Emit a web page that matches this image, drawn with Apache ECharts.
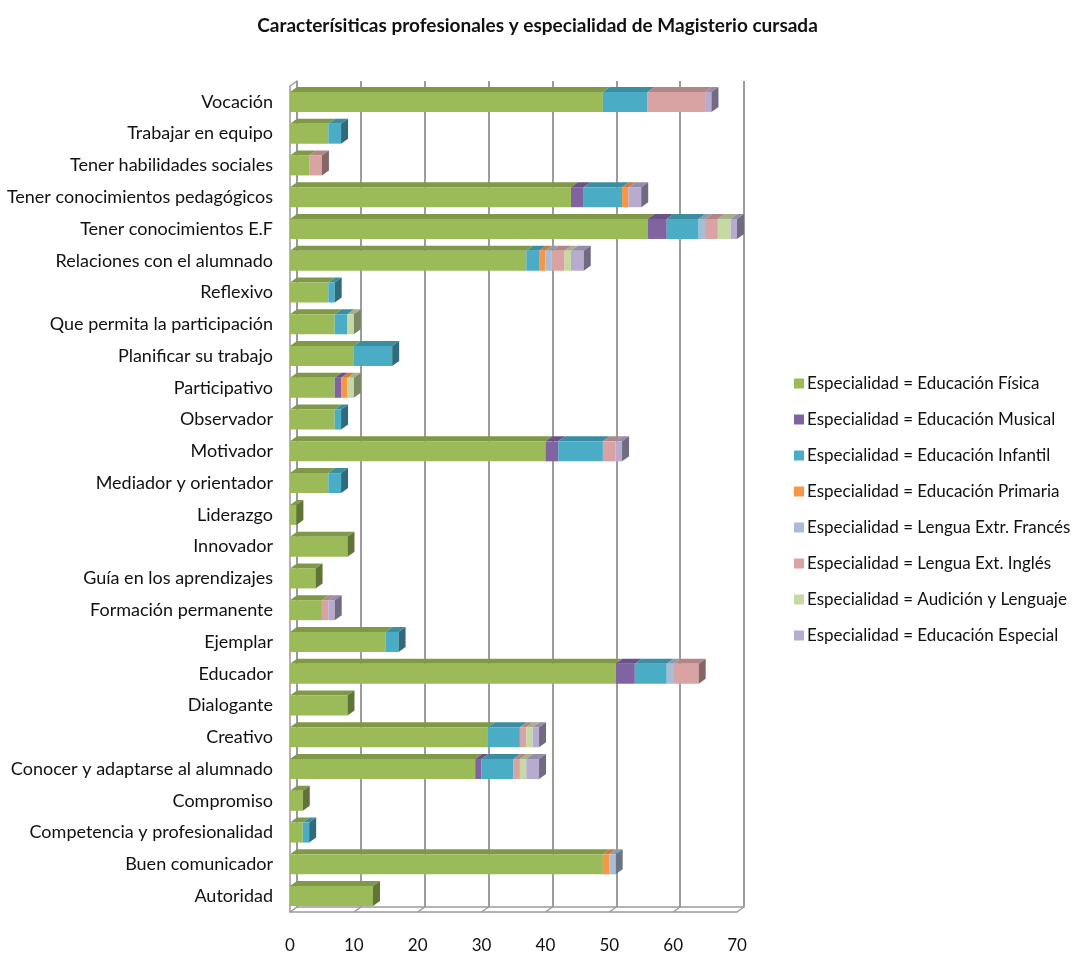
<!DOCTYPE html>
<html>
<head>
<meta charset="utf-8">
<script src="https://cdn.jsdelivr.net/npm/echarts@6/dist/echarts.min.js"></script>
<style>
  html, body { margin: 0; padding: 0; background: #fff; }
  #chart { width: 1075px; height: 956px; }
</style>
</head>
<body>
<div id="chart"></div>
<script>
// Características profesionales, apiladas por especialidad cursada
const categories = [
  'Vocación', 'Trabajar en equipo', 'Tener habilidades sociales',
  'Tener conocimientos pedagógicos', 'Tener conocimientos E.F',
  'Relaciones con el alumnado', 'Reflexivo', 'Que permita la participación',
  'Planificar su trabajo', 'Participativo', 'Observador', 'Motivador',
  'Mediador y orientador', 'Liderazgo', 'Innovador', 'Guía en los aprendizajes',
  'Formación permanente', 'Ejemplar', 'Educador', 'Dialogante', 'Creativo',
  'Conocer y adaptarse al alumnado', 'Compromiso', 'Competencia y profesionalidad',
  'Buen comunicador', 'Autoridad'
];

const educacionFisica    = [49, 6, 3, 44, 56, 37, 6, 7, 10, 7, 7, 40, 6, 1, 9, 4, 5, 15, 51, 9, 31, 29, 2, 2, 49, 13];
const educacionMusical   = [0, 0, 0, 2, 3, 0, 0, 0, 0, 1, 0, 2, 0, 0, 0, 0, 0, 0, 3, 0, 0, 1, 0, 0, 0, 0];
const educacionInfantil  = [7, 2, 0, 6, 5, 2, 1, 2, 6, 0, 1, 7, 2, 0, 0, 0, 0, 2, 5, 0, 5, 5, 0, 1, 0, 0];
const educacionPrimaria  = [0, 0, 0, 1, 0, 1, 0, 0, 0, 1, 0, 0, 0, 0, 0, 0, 0, 0, 0, 0, 0, 0, 0, 0, 1, 0];
const lenguaFrances      = [0, 0, 0, 0, 1, 1, 0, 0, 0, 0, 0, 0, 0, 0, 0, 0, 0, 0, 1, 0, 0, 0, 0, 0, 1, 0];
const lenguaIngles       = [9, 0, 2, 0, 2, 2, 0, 0, 0, 0, 0, 2, 0, 0, 0, 0, 1, 0, 4, 0, 1, 1, 0, 0, 0, 0];
const audicionLenguaje   = [0, 0, 0, 0, 2, 1, 0, 1, 0, 1, 0, 0, 0, 0, 0, 0, 0, 0, 0, 0, 1, 1, 0, 0, 0, 0];
const educacionEspecial  = [1, 0, 0, 2, 1, 2, 0, 0, 0, 0, 0, 1, 0, 0, 0, 0, 1, 0, 0, 0, 1, 2, 0, 0, 0, 0];

const seriesNames = [
  'Especialidad = Educación Física',
  'Especialidad = Educación Musical',
  'Especialidad = Educación Infantil',
  'Especialidad = Educación Primaria',
  'Especialidad = Lengua Extr. Francés',
  'Especialidad = Lengua Ext. Inglés',
  'Especialidad = Audición y Lenguaje',
  'Especialidad = Educación Especial'
];
const seriesValues = [
  educacionFisica, educacionMusical, educacionInfantil, educacionPrimaria,
  lenguaFrances, lenguaIngles, audicionLenguaje, educacionEspecial
];
const xTickValues = [0, 10, 20, 30, 40, 50, 60, 70];

const palette = ['#9BBB59', '#8064A2', '#4BACC6', '#F79646', '#A9BCD6', '#D9A3A3', '#C7D9A3', '#B7ABCF'];
const FONT = 'Lato, "Open Sans", sans-serif';

// 3D extrusion depth of boxes and walls (pixels)
const DX = 7, DY = 5;

function shade(hex, f) {
  const n = parseInt(hex.slice(1), 16);
  const r = Math.round(((n >> 16) & 255) * f);
  const g = Math.round(((n >> 8) & 255) * f);
  const b = Math.round((n & 255) * f);
  return 'rgb(' + r + ',' + g + ',' + b + ')';
}

function lastNonZero(i) {
  let last = -1;
  for (let s = 0; s < seriesValues.length; s++) if (seriesValues[s][i] > 0) last = s;
  return last;
}

function makeRender(sIdx) {
  return function (params, api) {
    const i = api.value(0);
    const v = seriesValues[sIdx][i];
    if (!v) return null;
    let start = 0;
    for (let s = 0; s < sIdx; s++) start += seriesValues[s][i];
    const end = start + v;
    const p0 = api.coord([start, i]);
    const p1 = api.coord([end, i]);
    const band = api.size([0, 1])[1];
    const h = band * 0.63;
    const yTop = p0[1] - h / 2;
    const yBot = yTop + h;
    const x0 = p0[0], x1 = p1[0];
    const color = palette[sIdx];
    const children = [
      { type: 'polygon', shape: { points: [[x0, yTop], [x1, yTop], [x1 + DX, yTop - DY], [x0 + DX, yTop - DY]] },
        style: { fill: shade(color, 0.82) } },
      { type: 'rect', shape: { x: x0, y: yTop, width: x1 - x0, height: h },
        style: { fill: color } }
    ];
    if (lastNonZero(i) === sIdx) {
      children.push({ type: 'polygon',
        shape: { points: [[x1, yTop], [x1 + DX, yTop - DY], [x1 + DX, yBot - DY], [x1, yBot]] },
        style: { fill: shade(color, 0.62) } });
    }
    return { type: 'group', children: children };
  };
}

const series = seriesNames.map((name, s) => ({
  name: name,
  type: 'custom',
  xAxisIndex: 0,
  yAxisIndex: 0,
  z: 3,
  itemStyle: { color: palette[s] },
  renderItem: makeRender(s),
  encode: { x: 1, y: 0 },
  data: categories.map((c, i) => [i, seriesValues[s][i]])
}));

// Floor and wall edges: slanted connectors between front plane and back wall
series.push({
  name: 'floor',
  type: 'custom',
  xAxisIndex: 0,
  yAxisIndex: 0,
  z: 1,
  silent: true,
  encode: { x: 0 },
  data: xTickValues.map(v => [v]),
  renderItem: function (params, api) {
    const cs = params.coordSys;
    const x = api.coord([api.value(0), 0])[0];
    const yb = cs.y + cs.height;
    const st = { stroke: '#9a9a9a', lineWidth: 1.5 };
    const kids = [{ type: 'line', shape: { x1: x, y1: yb, x2: x + DX, y2: yb - DY }, style: st }];
    if (params.dataIndex === 0) {
      kids.push({ type: 'line', shape: { x1: cs.x, y1: cs.y, x2: cs.x + DX, y2: cs.y - DY }, style: st });
    }
    return { type: 'group', children: kids };
  }
});

const chart = echarts.init(document.getElementById('chart'), null, { renderer: 'canvas' });
chart.setOption({
  backgroundColor: '#ffffff',
  animation: false,
  title: {
    text: 'Caracterísiticas profesionales y especialidad de Magisterio cursada',
    left: 'center', top: 11,
    textStyle: { fontFamily: FONT, fontSize: 19, fontWeight: 'bold', color: '#111' }
  },
  legend: {
    orient: 'vertical',
    left: 789, top: 370,
    itemWidth: 10, itemHeight: 10, itemGap: 19,
    icon: 'rect',
    data: seriesNames,
    textStyle: { fontFamily: FONT, fontSize: 17, color: '#111', padding: [0, 0, 0, -2] }
  },
  grid: [
    { left: 290, top: 86, width: 447, height: 826 },       // front plane (boxes, labels)
    { left: 297, top: 81, width: 447, height: 826 }        // back wall (gridlines)
  ],
  xAxis: [
    { type: 'value', gridIndex: 0, min: 0, max: 70, interval: 10,
      axisLine: { show: true, lineStyle: { color: '#9a9a9a', width: 1.5 } },
      axisTick: { show: false }, splitLine: { show: false },
      axisLabel: { fontFamily: FONT, fontSize: 17, color: '#111', margin: 25 } },
    { type: 'value', gridIndex: 1, min: 0, max: 70, interval: 10,
      axisLine: { show: true, lineStyle: { color: '#9a9a9a', width: 1.5 } },
      axisTick: { show: false }, axisLabel: { show: false },
      splitLine: { show: true, lineStyle: { color: '#9c9c9c', width: 2 } } }
  ],
  yAxis: [
    { type: 'category', gridIndex: 0, data: categories, inverse: true,
      axisLine: { show: true, lineStyle: { color: '#9a9a9a', width: 1.5 } },
      axisTick: { show: false },
      axisLabel: { fontFamily: FONT, fontSize: 18, color: '#111', margin: 17 } },
    { type: 'category', gridIndex: 1, data: categories, inverse: true,
      axisLine: { show: true, lineStyle: { color: '#9a9a9a', width: 1.5 } },
      axisTick: { show: false }, axisLabel: { show: false } }
  ],
  series: series
});
</script>
</body>
</html>
